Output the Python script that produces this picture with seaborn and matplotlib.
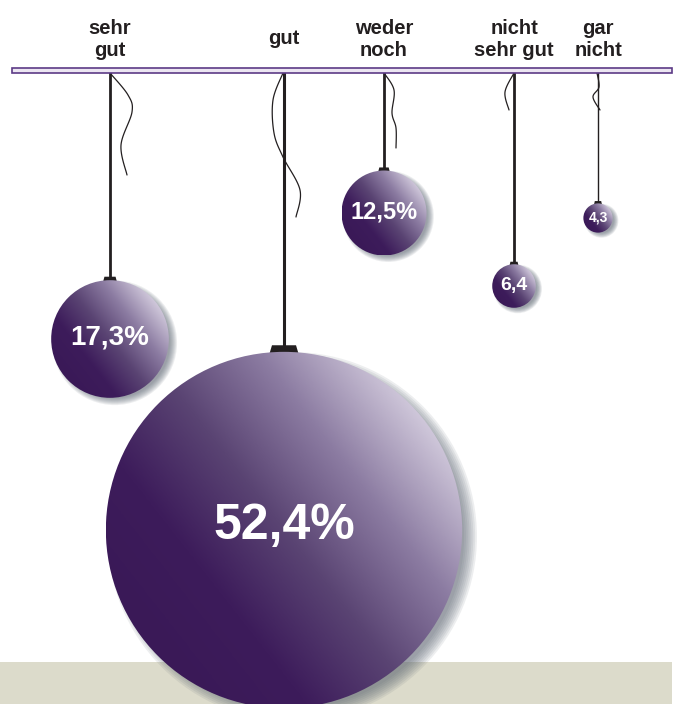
import numpy as np
import matplotlib
matplotlib.use("Agg")
import matplotlib.pyplot as plt
from matplotlib.patches import Circle, Rectangle, Polygon
import seaborn as sns

# --- data ---
labels = ["sehr\ngut", "gut", "weder\nnoch", "nicht\nsehr gut", "gar\nnicht"]
values = [17.3, 52.4, 12.5, 6.4, 4.3]
value_texts = ["17,3%", "52,4%", "12,5%", "6,4", "4,3"]

# --- layout (pixel coordinates, y downwards) ---
x_pos = [110, 284, 384, 514, 598]
y_center = [339, 530, 213, 286, 218]
text_sizes = [20, 36, 17, 14, 10]
string_lw = [2.0, 2.2, 2.0, 2.0, 1.0]
px_per_unit = 3.4

# decorative loose strings next to the cords
loose = [
    [(110, 73), (128, 95), (132, 112), (121, 145), (127, 175)],
    [(283, 73), (273, 100), (274, 133), (283, 157), (300, 190), (296, 217)],
    [(384, 73), (394, 90), (392, 113), (396, 128), (396, 148)],
    [(514, 73), (505, 92), (509, 110)],
    [(597, 73), (599, 87), (593, 97), (600, 110)],
]

sns.set_theme(style="white")
plt.rcParams['font.family'] = ['Liberation Sans', 'DejaVu Sans']

ball_cmap = sns.blend_palette(["#3a1957", "#3d1c5b", "#5a4473", "#8c7ca2", "#cfc7da"], as_cmap=True)


def catmull(pts, n=20):
    p = np.array(pts, dtype=float)
    p = np.vstack([p[0], p, p[-1]])
    out = []
    for i in range(1, len(p) - 2):
        p0, p1, p2, p3 = p[i - 1], p[i], p[i + 1], p[i + 2]
        for t in np.linspace(0, 1, n, endpoint=False):
            t2, t3 = t * t, t * t * t
            out.append(0.5 * ((2 * p1) + (-p0 + p2) * t + (2 * p0 - 5 * p1 + 4 * p2 - p3) * t2
                              + (-p0 + 3 * p1 - 3 * p2 + p3) * t3))
    out.append(p[-2])
    return np.array(out)


def draw_ball(ax, cx, cy, r, z):
    # soft shadow, lower right
    off = 3 + 0.03 * r
    blur = 2 + 0.025 * r
    for k in np.linspace(-blur, blur, 8):
        ax.add_patch(Circle((cx + off, cy + off * 0.8), r + k, facecolor="#5e6874",
                            edgecolor="none", alpha=0.11, zorder=z))
    # gradient body
    n = 300
    g = np.linspace(-1, 1, n)
    X, Y = np.meshgrid(g, g)
    ang = np.deg2rad(38)
    t = (X * np.cos(ang) - Y * np.sin(ang) + 1) / 2
    circ = Circle((cx, cy), r, transform=ax.transData, facecolor="none", edgecolor="none", zorder=z + 0.2)
    ax.add_patch(circ)
    im = ax.imshow(t, cmap=ball_cmap, vmin=0, vmax=1, extent=(cx - r, cx + r, cy + r, cy - r),
                   origin="upper", interpolation="bilinear", zorder=z + 0.2, aspect="auto")
    im.set_clip_path(circ)


fig = plt.figure(figsize=(6.76, 7.04), dpi=100)
ax = fig.add_axes([0, 0, 1, 1])
ax.set_xlim(0, 676)
ax.set_ylim(704, 0)
ax.axis("off")

# ground
ax.add_patch(Rectangle((0, 662), 672, 50, facecolor="#dcdbcb", edgecolor="none", zorder=0))

order = np.argsort(values)
for rank, i in enumerate(order):
    cx, cy = x_pos[i], y_center[i]
    r = values[i] * px_per_unit
    z = 2 + rank * 2
    w = 6 + 0.135 * r
    h = 3 + 0.04 * r
    bottom = cy - r + 0.35 * h
    top = bottom - h
    # cord
    ax.plot([cx, cx], [70, top + 0.5], color="#231f20", lw=string_lw[i], solid_capstyle="butt", zorder=1)
    c = catmull(loose[i])
    ax.plot(c[:, 0], c[:, 1], color="#231f20", lw=0.9, zorder=1)
    # cap
    ax.add_patch(Polygon([(cx - w / 2, bottom), (cx + w / 2, bottom), (cx + 0.4 * w, top), (cx - 0.4 * w, top)],
                         closed=True, facecolor="#231f20", edgecolor="none", zorder=z))
    draw_ball(ax, cx, cy, r, z)
    ax.text(cx, cy - 0.02 * r, value_texts[i], ha="center", va="center", color="white",
            fontsize=text_sizes[i], fontweight="bold", zorder=z + 1)

# rail
ax.add_patch(Rectangle((12, 68), 660, 5, facecolor="#ece6f2", edgecolor="#5c3b86", lw=1.2, zorder=1.5))

for x, lab in zip(x_pos, labels):
    ax.text(x, 39, lab, ha="center", va="center", fontsize=14.5, fontweight="bold", color="#231f20",
            linespacing=1.2)

fig.savefig("out.png", dpi=100, facecolor="white")
